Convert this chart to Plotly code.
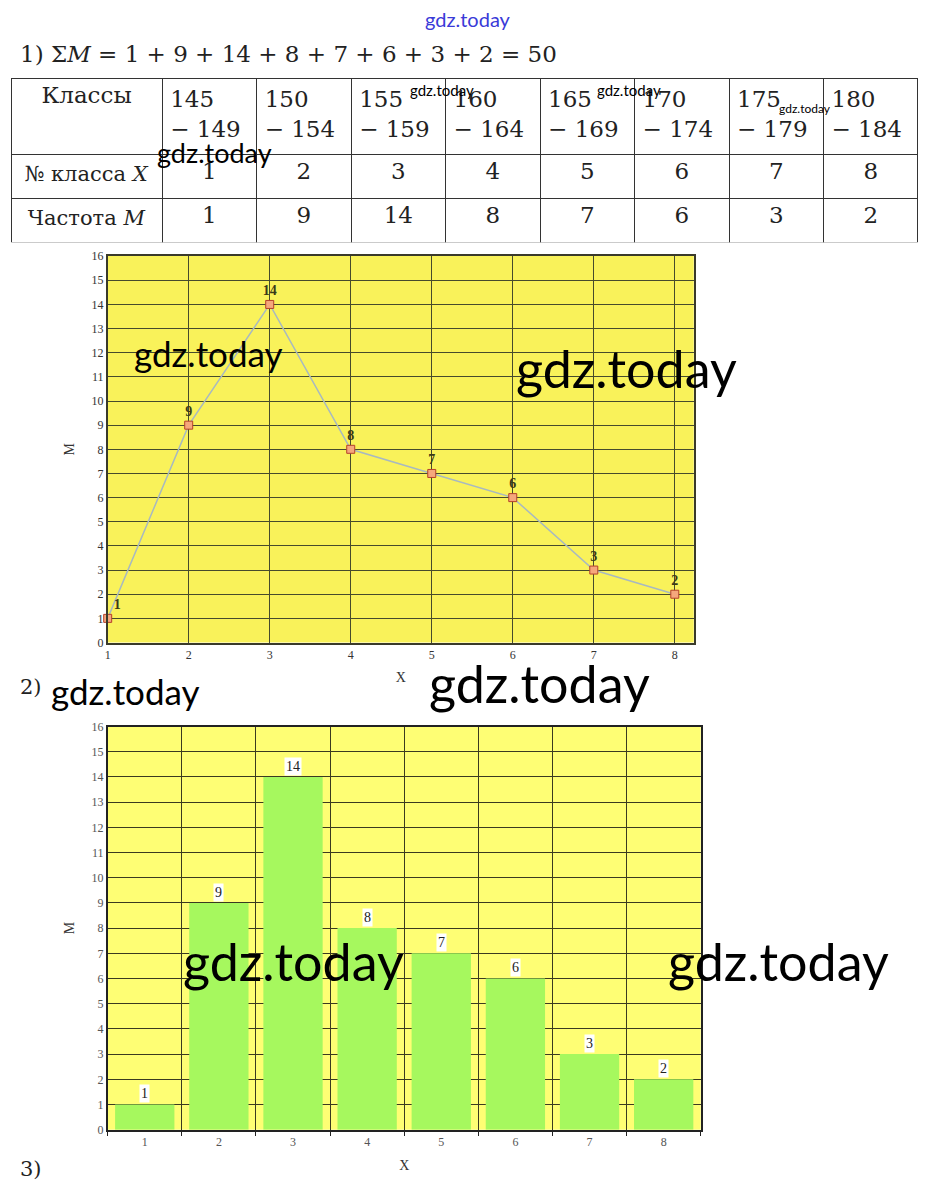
import plotly.graph_objects as go

# ---------------- data ----------------
class_ranges = ["145<br>− 149", "150<br>− 154", "155<br>− 159", "160<br>− 164",
                "165<br>− 169", "170<br>− 174", "175<br>− 179", "180<br>− 184"]
class_no = [1, 2, 3, 4, 5, 6, 7, 8]
freq = [1, 9, 14, 8, 7, 6, 3, 2]
row_labels = ["№ класса <i>X</i>", "Частота <i>M</i>"]
header_label = "Классы"

# ---------------- geometry helpers ----------------
OFF = 8
W, H = 916, 1187


def px(x):
    return min(1.0, max(0.0, (x - OFF) / W))


def py(y):
    return min(1.0, max(0.0, 1 - (y - OFF) / H))


SERIF = "DejaVu Serif"
TSERIF = "Liberation Serif"
WM = "Lato"

fig = go.Figure()

# ---------------- table ----------------
fig.add_trace(go.Table(
    domain=dict(x=[px(8), px(918)], y=[py(238), py(72)]),
    columnwidth=[152] + [95] * 8,
    header=dict(values=[header_label] + class_ranges,
                align=["center"] + ["left"] * 8,
                height=76,
                font=dict(family=SERIF, size=23, color="#222"),
                fill_color="white",
                line=dict(color="#333", width=1)),
    cells=dict(values=[row_labels] + [[n, m] for n, m in zip(class_no, freq)],
               align="center",
               height=44,
               font=dict(family=SERIF, size=[21] + [23] * 8, color="#222"),
               fill_color="white",
               line=dict(color="#333", width=1)),
))

# ---------------- line chart ----------------
fig.add_trace(go.Scatter(
    x=class_no, y=freq, mode="lines+markers+text",
    text=[str(v) for v in freq],
    texttemplate="<b>%{text}</b>",
    textposition=["top right"] + ["top center"] * 7,
    textfont=dict(family=TSERIF, size=14, color="#3a3a18"),
    line=dict(color="#a8b9c0", width=1.5),
    marker=dict(symbol="square", size=8, color="#f5a77c",
                line=dict(color="#b5402a", width=1)),
    cliponaxis=False, showlegend=False, xaxis="x", yaxis="y",
))

# ---------------- bar chart ----------------
fig.add_trace(go.Bar(
    x=class_no, y=freq, width=0.8,
    marker=dict(color="#a6f85e", line=dict(width=0)),
    showlegend=False, xaxis="x2", yaxis="y2",
))

annotations = []
for n, m in zip(class_no, freq):
    annotations.append(dict(x=n, y=m, xref="x2", yref="y2", text=str(m),
                            showarrow=False, yanchor="bottom", yshift=1,
                            bgcolor="white", borderpad=1,
                            font=dict(family=TSERIF, size=14, color="#222")))

# ---------------- texts ----------------
sum_text = "1) Σ<i>M</i> = " + " + ".join(str(v) for v in freq) + " = " + str(sum(freq))
texts = [
    (sum_text, 15, 47, "left", SERIF, 23, "#222"),
    ("2)", 15, 688, "left", SERIF, 21, "#222"),
    ("3)", 15, 1176, "left", SERIF, 21, "#222"),
]
for t, x, y, xa, fam, sz, col in texts:
    annotations.append(dict(x=px(x), y=py(y), xref="paper", yref="paper", text=t,
                            showarrow=False, xanchor=xa, yanchor="middle",
                            font=dict(family=fam, size=sz, color=col)))

watermarks = [
    (467, 12, 20, "#3a3ad8"),
    (212, 147, 27, "black"),
    (440, 84, 15, "black"),
    (628, 84, 15, "black"),
    (805, 103, 12, "black"),
    (206, 350, 35, "black"),
    (626, 365, 52, "black"),
    (123, 692, 35, "black"),
    (538, 684, 52, "black"),
    (291, 965, 52, "black"),
    (778, 965, 52, "black"),
]
for x, y, sz, col in watermarks:
    annotations.append(dict(x=px(x), y=py(y), xref="paper", yref="paper", text="gdz.today",
                            showarrow=False, xanchor="center", yanchor="middle",
                            font=dict(family=WM, size=sz, color=col)))

shapes = [
    dict(type="rect", xref="x domain", yref="y domain", x0=0, x1=1, y0=0, y1=1,
         fillcolor="#f9f25a", line=dict(width=0), layer="below"),
    dict(type="rect", xref="x2 domain", yref="y2 domain", x0=0, x1=1, y0=0, y1=1,
         fillcolor="#fefe74", line=dict(width=0), layer="below"),
]

tickfont = dict(family=TSERIF, size=12, color="#333")
fig.update_layout(
    width=W, height=H, margin=dict(l=0, r=0, t=0, b=0),
    paper_bgcolor="white", plot_bgcolor="white",
    showlegend=False, annotations=annotations, shapes=shapes,
    xaxis=dict(domain=[px(105), px(693)], range=[1, 8.234], tickvals=class_no,
               showgrid=True, gridcolor="#464b2c", gridwidth=1, zeroline=False,
               showline=True, mirror=True, linecolor="#3a3a2a", linewidth=1.5,
               ticks="", tickfont=tickfont, anchor="y",
               title=dict(text="X", font=dict(family=TSERIF, size=14, color="#333"), standoff=12)),
    yaxis=dict(domain=[py(643), py(252)], range=[0, 16], dtick=1,
               showgrid=True, gridcolor="#464b2c", gridwidth=1, zeroline=False,
               showline=True, mirror=True, linecolor="#3a3a2a", linewidth=1.5,
               ticks="", tickfont=tickfont, anchor="x",
               title=dict(text="M", font=dict(family=TSERIF, size=14, color="#333"), standoff=14)),
    xaxis2=dict(domain=[px(105), px(700)], range=[0.5, 8.5], tickvals=class_no,
                showgrid=False, zeroline=False,
                showline=True, mirror=True, linecolor="#222", linewidth=1.5,
                ticks="", tickfont=dict(family=TSERIF, size=12, color="#555"), anchor="y2",
                minor=dict(tick0=0.5, dtick=1, showgrid=True, gridcolor="#3a3a20", gridwidth=1,
                           ticks="outside", ticklen=5, tickcolor="#222"),
                title=dict(text="X", font=dict(family=TSERIF, size=14, color="#333"), standoff=12)),
    yaxis2=dict(domain=[py(1136), py(728)], range=[0, 16], dtick=1,
                showgrid=True, gridcolor="#3a3a20", gridwidth=1, zeroline=False,
                showline=True, mirror=True, linecolor="#222", linewidth=1.5,
                ticks="", tickfont=dict(family=TSERIF, size=12, color="#555"), anchor="x2",
                title=dict(text="M", font=dict(family=TSERIF, size=14, color="#333"), standoff=14)),
    bargap=0.2,
)

fig.write_html("out.html")
